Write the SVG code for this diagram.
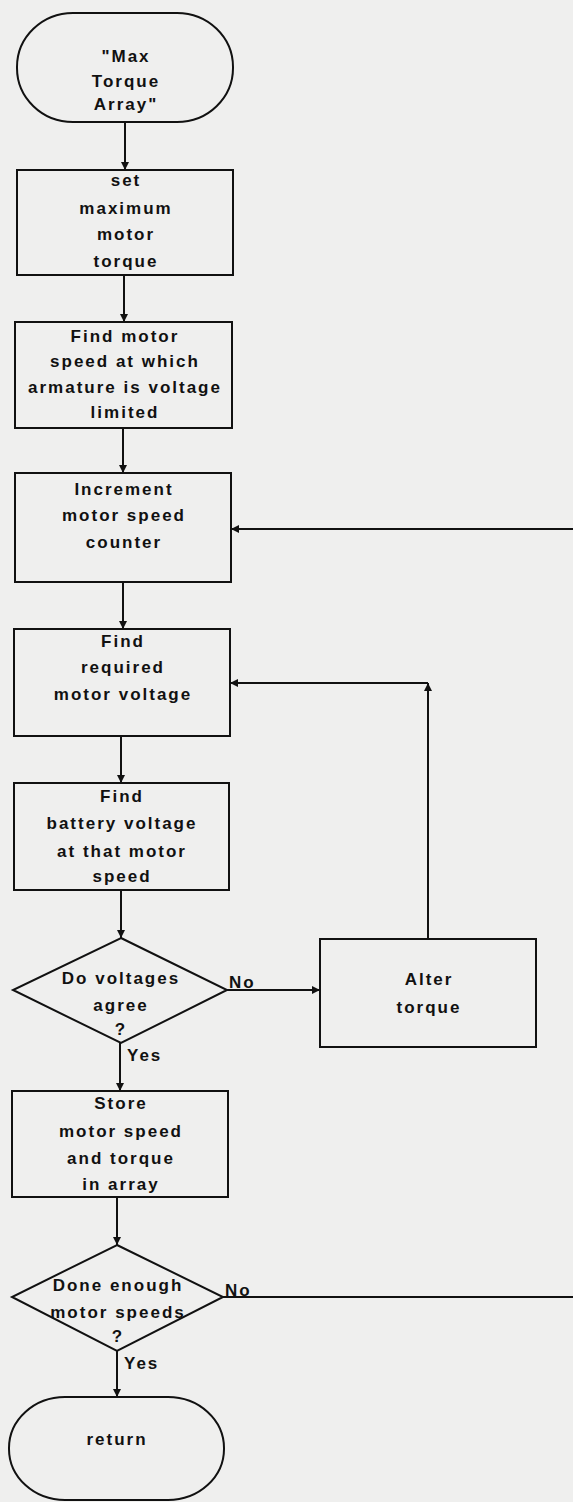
<svg xmlns="http://www.w3.org/2000/svg" width="573" height="1502" viewBox="0 0 573 1502">
<defs>
<style>
.bg{fill:#efefee}
.n{fill:none;stroke:#111;stroke-width:2}
.c{fill:none;stroke:#111;stroke-width:2}
text{font-family:"Liberation Sans",Arial,sans-serif;font-weight:bold;font-size:17px;fill:#111;letter-spacing:2px}
.m{text-anchor:middle}
</style>
<marker id="ah" viewBox="0 0 10 10" refX="10" refY="5" markerWidth="4" markerHeight="4" orient="auto" markerUnits="strokeWidth">
<path d="M0,0 L10,5 L0,10 z" fill="#111"/>
</marker>
</defs>
<rect class="bg" x="0" y="0" width="573" height="1502"/>

<g id="connectors">
<line class="c" x1="125" y1="122" x2="125" y2="170" marker-end="url(#ah)"/>
<line class="c" x1="124" y1="275" x2="124" y2="322" marker-end="url(#ah)"/>
<line class="c" x1="123" y1="428" x2="123" y2="473" marker-end="url(#ah)"/>
<line class="c" x1="123" y1="582" x2="123" y2="629" marker-end="url(#ah)"/>
<line class="c" x1="121" y1="736" x2="121" y2="783" marker-end="url(#ah)"/>
<line class="c" x1="121" y1="890" x2="121" y2="938" marker-end="url(#ah)"/>
<line class="c" x1="120" y1="1043" x2="120" y2="1091" marker-end="url(#ah)"/>
<line class="c" x1="117" y1="1197" x2="117" y2="1245" marker-end="url(#ah)"/>
<line class="c" x1="117" y1="1351" x2="117" y2="1397" marker-end="url(#ah)"/>
<line class="c" x1="573" y1="529" x2="231" y2="529" marker-end="url(#ah)"/>
<line class="c" x1="227" y1="990" x2="320" y2="990" marker-end="url(#ah)"/>
<line class="c" x1="428" y1="939" x2="428" y2="683" marker-end="url(#ah)"/>
<line class="c" x1="428" y1="683" x2="230" y2="683" marker-end="url(#ah)"/>
<line class="c" x1="223" y1="1297" x2="573" y2="1297"/>
<text x="229" y="988">No</text>
<text x="127" y="1061">Yes</text>
<text x="225" y="1296">No</text>
<text x="124" y="1369">Yes</text>
</g>

<g id="start">
<rect class="n" x="17" y="13" width="216" height="109" rx="56" ry="54"/>
<text class="m" x="126" y="62">"Max</text>
<text class="m" x="126" y="87">Torque</text>
<text class="m" x="126" y="110">Array"</text>
</g>

<g id="set_max_torque">
<rect class="n" x="17" y="170" width="216" height="105"/>
<text class="m" x="126" y="186">set</text>
<text class="m" x="126" y="214">maximum</text>
<text class="m" x="126" y="240">motor</text>
<text class="m" x="126" y="267">torque</text>
</g>

<g id="find_speed_limit">
<rect class="n" x="15" y="322" width="217" height="106"/>
<text class="m" x="125" y="342">Find motor</text>
<text class="m" x="125" y="367">speed at which</text>
<text class="m" x="125" y="393">armature is voltage</text>
<text class="m" x="125" y="418">limited</text>
</g>

<g id="increment_counter">
<rect class="n" x="15" y="473" width="216" height="109"/>
<text class="m" x="124" y="495">Increment</text>
<text class="m" x="124" y="521">motor speed</text>
<text class="m" x="124" y="548">counter</text>
</g>

<g id="find_required_voltage">
<rect class="n" x="14" y="629" width="216" height="107"/>
<text class="m" x="123" y="647">Find</text>
<text class="m" x="123" y="673">required</text>
<text class="m" x="123" y="700">motor voltage</text>
</g>

<g id="find_battery_voltage">
<rect class="n" x="14" y="783" width="215" height="107"/>
<text class="m" x="122" y="802">Find</text>
<text class="m" x="122" y="829">battery voltage</text>
<text class="m" x="122" y="857">at that motor</text>
<text class="m" x="122" y="882">speed</text>
</g>

<g id="voltages_agree">
<polygon class="n" points="121,938 227,990 121,1043 13,990"/>
<text class="m" x="121" y="984">Do voltages</text>
<text class="m" x="121" y="1011">agree</text>
<text class="m" x="121" y="1035">?</text>
</g>

<g id="alter_torque">
<rect class="n" x="320" y="939" width="216" height="108"/>
<text class="m" x="429" y="985">Alter</text>
<text class="m" x="429" y="1013">torque</text>
</g>

<g id="store">
<rect class="n" x="12" y="1091" width="216" height="106"/>
<text class="m" x="121" y="1109">Store</text>
<text class="m" x="121" y="1137">motor speed</text>
<text class="m" x="121" y="1164">and torque</text>
<text class="m" x="121" y="1190">in array</text>
</g>

<g id="enough_speeds">
<polygon class="n" points="117,1245 223,1297 117,1351 12,1297"/>
<text class="m" x="118" y="1291">Done enough</text>
<text class="m" x="118" y="1318">motor speeds</text>
<text class="m" x="118" y="1342">?</text>
</g>

<g id="return">
<rect class="n" x="9" y="1397" width="215" height="103" rx="56" ry="51"/>
<text class="m" x="117" y="1445">return</text>
</g>
</svg>
